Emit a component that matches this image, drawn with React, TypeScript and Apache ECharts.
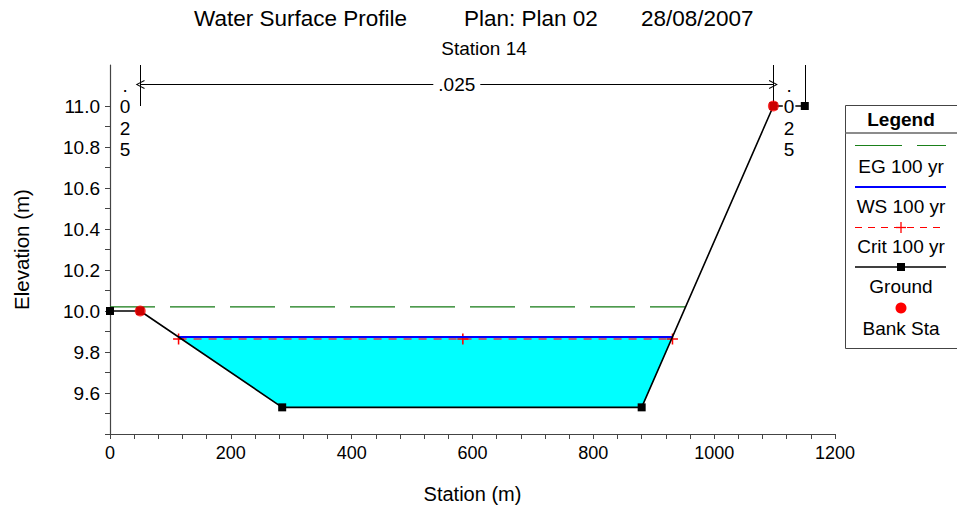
import React, { useEffect, useRef } from "react";
import * as echarts from "echarts";

// ---- Data ----
const groundStation = [0, 50, 285, 880, 1098, 1150];
const groundElev = [10.0, 10.0, 9.53, 9.53, 11.0, 11.0];
const bankStation = [50, 1098];
const bankElev = [10.0, 11.0];
const wsStation = [113.5, 931];
const wsElev = [9.873, 9.873];
const critStation = [113.5, 584, 931];
const critElev = [9.863, 9.863, 9.863];
const egStation = [0, 953];
const egElev = [10.02, 10.02];
const waterStation = [113.5, 285, 880, 931];
const waterElev = [9.873, 9.53, 9.53, 9.873];
const mannN = ".025";
const xTickLabels = [0, 200, 400, 600, 800, 1000, 1200];
const yTickLabels = [9.6, 9.8, 10.0, 10.2, 10.4, 10.6, 10.8, 11.0];
const yTickMarks = [9.4, 9.5, 9.6, 9.7, 9.8, 9.9, 10.0, 10.1, 10.2, 10.3, 10.4, 10.5, 10.6, 10.7, 10.8, 10.9, 11.0];

const FONT = "'Liberation Sans', Arial, sans-serif";

const pairs = (xs: number[], ys: number[]) => xs.map((x, i) => [x, ys[i]]);

const PLUS = "path://M4.3,0H5.7V4.3H10V5.7H5.7V10H4.3V5.7H0V4.3H4.3Z";
const CHEVRON = "path://M0,10L5,0L10,10L9,10.5L5,2.4L1,10.5Z";

export default function App() {
  const ref = useRef<HTMLDivElement>(null);
  useEffect(() => {
    if (!ref.current) return;
    const chart = echarts.init(ref.current, undefined, { renderer: "svg" });
    const axisColor = "#444";
    const yMin = 9.4;
    const yMax = 11.2;
    const nLabelY = 10.943;
    const arrowY = 11.105;
    const option: any = {
      animation: false,
      backgroundColor: "#fff",
      grid: { left: 110, right: 122, top: 65, bottom: 77 },
      xAxis: {
        type: "value",
        min: xTickLabels[0],
        max: xTickLabels[xTickLabels.length - 1],
        interval: 200,
        name: "Station (m)",
        nameLocation: "middle",
        nameGap: 50,
        nameTextStyle: { color: "#000", fontSize: 20, fontFamily: FONT },
        axisLine: { show: true, onZero: false, lineStyle: { color: axisColor, width: 1.2 } },
        axisTick: { show: true, length: 5, lineStyle: { color: axisColor } },
        minorTick: { show: true, splitNumber: 5, length: 5, lineStyle: { color: axisColor } },
        splitLine: { show: false },
        minorSplitLine: { show: false },
        axisLabel: {
          color: "#000",
          fontSize: 18,
          fontFamily: FONT,
          margin: 10,
          customValues: xTickLabels,
          formatter: (v: number) => String(Math.round(v)),
        },
      },
      yAxis: {
        type: "value",
        min: yMin,
        max: yMax,
        interval: 0.2,
        name: "Elevation (m)",
        nameLocation: "middle",
        nameRotate: 90,
        nameGap: 78,
        nameTextStyle: { color: "#000", fontSize: 20.5, fontFamily: FONT },
        axisLine: { show: true, onZero: false, lineStyle: { color: axisColor, width: 1.2 } },
        axisTick: { show: true, length: 5, customValues: yTickMarks, lineStyle: { color: axisColor } },
        minorTick: { show: false },
        splitLine: { show: false },
        minorSplitLine: { show: false },
        axisLabel: {
          color: "#000",
          fontSize: 19,
          fontFamily: FONT,
          margin: 10,
          customValues: yTickLabels,
          formatter: (v: number) => v.toFixed(1),
        },
      },
      series: [
        {
          name: "Water",
          type: "custom",
          coordinateSystem: "cartesian2d",
          data: pairs(waterStation, waterElev),
          z: 1,
          silent: true,
          renderItem: (params: any, api: any) => {
            if (params.dataIndex !== 0) return { type: "group", children: [] };
            const pts = waterStation.map((s, i) => api.coord([s, waterElev[i]]));
            return { type: "polygon", shape: { points: pts }, style: { fill: "#00ffff" } };
          },
        },
        {
          name: "EG 100 yr",
          type: "line",
          data: pairs(egStation, egElev),
          symbol: "none",
          z: 2,
          lineStyle: { color: "#157a15", width: 1.2, type: [45, 15] },
        },
        {
          name: "Crit 100 yr",
          type: "line",
          data: pairs(critStation, critElev),
          symbol: PLUS,
          symbolSize: 11,
          showSymbol: true,
          z: 3,
          itemStyle: { color: "#ff0000" },
          lineStyle: { color: "#a8667a", width: 2, type: [8, 7] },
        },
        {
          name: "WS 100 yr",
          type: "line",
          data: pairs(wsStation, wsElev),
          symbol: "none",
          z: 4,
          lineStyle: { color: "#0000ff", width: 2 },
        },
        {
          name: "Ground",
          type: "line",
          data: pairs(groundStation, groundElev),
          symbol: "rect",
          symbolSize: 8,
          showAllSymbol: true,
          z: 5,
          itemStyle: { color: "#000" },
          lineStyle: { color: "#000", width: 1.6 },
        },
        {
          name: "Bank Sta",
          type: "scatter",
          data: pairs(bankStation, bankElev),
          symbol: "circle",
          symbolSize: 11,
          z: 6,
          itemStyle: { color: "#ff0000" },
        },
        {
          name: "n-labels",
          type: "scatter",
          z: 7,
          symbolSize: 0,
          itemStyle: { color: "#000" },
          data: [
            [(groundStation[0] + bankStation[0]) / 2, nLabelY],
            [(bankStation[1] + groundStation[groundStation.length - 1]) / 2, nLabelY],
          ],
          label: {
            show: true,
            position: "inside",
            formatter: mannN.split("").join("\n"),
            fontSize: 19,
            fontFamily: FONT,
            color: "#000",
            opacity: 1,
            textBorderWidth: 0,
            lineHeight: 21.5,
            backgroundColor: "#fff",
            padding: [0, 1],
          },
        },
        {
          name: "bank-lines",
          type: "line",
          data: [],
          z: 7,
          markLine: {
            silent: true,
            symbol: "none",
            animation: false,
            lineStyle: { color: "#000", width: 1, type: "solid" },
            label: { show: false },
            data: [
              [{ coord: [bankStation[0], yMax] }, { coord: [bankStation[0], 11.0] }],
              [{ coord: [bankStation[1], yMax] }, { coord: [bankStation[1], 11.0] }],
              [
                { coord: [groundStation[groundStation.length - 1], yMax] },
                { coord: [groundStation[groundStation.length - 1], 11.0] },
              ],
            ],
          },
        },
        {
          name: "n-arrow",
          type: "line",
          data: [],
          z: 7,
          markLine: {
            silent: true,
            symbol: [CHEVRON, CHEVRON],
            symbolSize: [9, 9],
            animation: false,
            lineStyle: { color: "#000", width: 1, type: "solid" },
            label: {
              show: true,
              position: "insideMiddle",
              formatter: mannN,
              fontSize: 19,
              fontFamily: FONT,
              color: "#000",
              backgroundColor: "#fff",
              padding: [0, 5],
              distance: 0,
            },
            data: [[{ coord: [bankStation[0], arrowY] }, { coord: [bankStation[1], arrowY] }]],
          },
        },
      ],
      graphic: [
        { type: "text", x: 194, y: 18, style: { text: "Water Surface Profile", font: `22.5px ${FONT}`, fill: "#000", textVerticalAlign: "middle" } },
        { type: "text", x: 464, y: 18, style: { text: "Plan: Plan 02", font: `22.5px ${FONT}`, fill: "#000", textVerticalAlign: "middle" } },
        { type: "text", x: 641, y: 18, style: { text: "28/08/2007", font: `22.5px ${FONT}`, fill: "#000", textVerticalAlign: "middle" } },
        {
          type: "text",
          x: 484,
          y: 48,
          style: { text: "Station 14", font: `19px ${FONT}`, fill: "#000", textAlign: "center", textVerticalAlign: "middle" },
        },
        // Legend box
        {
          type: "group",
          children: [
            { type: "rect", shape: { x: 845.5, y: 105.5, width: 130, height: 243 }, style: { fill: "#fff", stroke: "#444", lineWidth: 1 } },
            { type: "text", x: 901, y: 119, style: { text: "Legend", font: `bold 19px ${FONT}`, fill: "#000", textAlign: "center", textVerticalAlign: "middle" } },
            { type: "line", shape: { x1: 845, y1: 133, x2: 957, y2: 133 }, style: { stroke: "#666", lineWidth: 1.5 } },
            { type: "line", shape: { x1: 855, y1: 145.5, x2: 946, y2: 145.5 }, style: { stroke: "#1a801a", lineWidth: 1, lineDash: [47, 15] } },
            { type: "text", x: 901, y: 166, style: { text: "EG 100 yr", font: `19px ${FONT}`, fill: "#000", textAlign: "center", textVerticalAlign: "middle" } },
            { type: "line", shape: { x1: 855, y1: 187, x2: 946, y2: 187 }, style: { stroke: "#0000ff", lineWidth: 2 } },
            { type: "text", x: 901, y: 206, style: { text: "WS 100 yr", font: `19px ${FONT}`, fill: "#000", textAlign: "center", textVerticalAlign: "middle" } },
            { type: "line", shape: { x1: 855, y1: 227.5, x2: 946, y2: 227.5 }, style: { stroke: "#ff0000", lineWidth: 1, lineDash: [7, 6] } },
            { type: "line", shape: { x1: 896, y1: 227.5, x2: 906, y2: 227.5 }, style: { stroke: "#ff0000", lineWidth: 1.3 } },
            { type: "line", shape: { x1: 901, y1: 222, x2: 901, y2: 233 }, style: { stroke: "#ff0000", lineWidth: 1.3 } },
            { type: "text", x: 901, y: 246, style: { text: "Crit 100 yr", font: `19px ${FONT}`, fill: "#000", textAlign: "center", textVerticalAlign: "middle" } },
            { type: "line", shape: { x1: 855, y1: 267, x2: 946, y2: 267 }, style: { stroke: "#000", lineWidth: 1.6 } },
            { type: "rect", shape: { x: 897, y: 263, width: 8, height: 8 }, style: { fill: "#000" } },
            { type: "text", x: 901, y: 286, style: { text: "Ground", font: `19px ${FONT}`, fill: "#000", textAlign: "center", textVerticalAlign: "middle" } },
            { type: "circle", shape: { cx: 901, cy: 308, r: 5.5 }, style: { fill: "#ff0000" } },
            { type: "text", x: 901, y: 328, style: { text: "Bank Sta", font: `19px ${FONT}`, fill: "#000", textAlign: "center", textVerticalAlign: "middle" } },
          ],
        },
      ],
    };
    chart.setOption(option);
    return () => chart.dispose();
  }, []);
  return <div ref={ref} style={{ width: 957, height: 511, position: "absolute", left: 0, top: 0 }} />;
}
